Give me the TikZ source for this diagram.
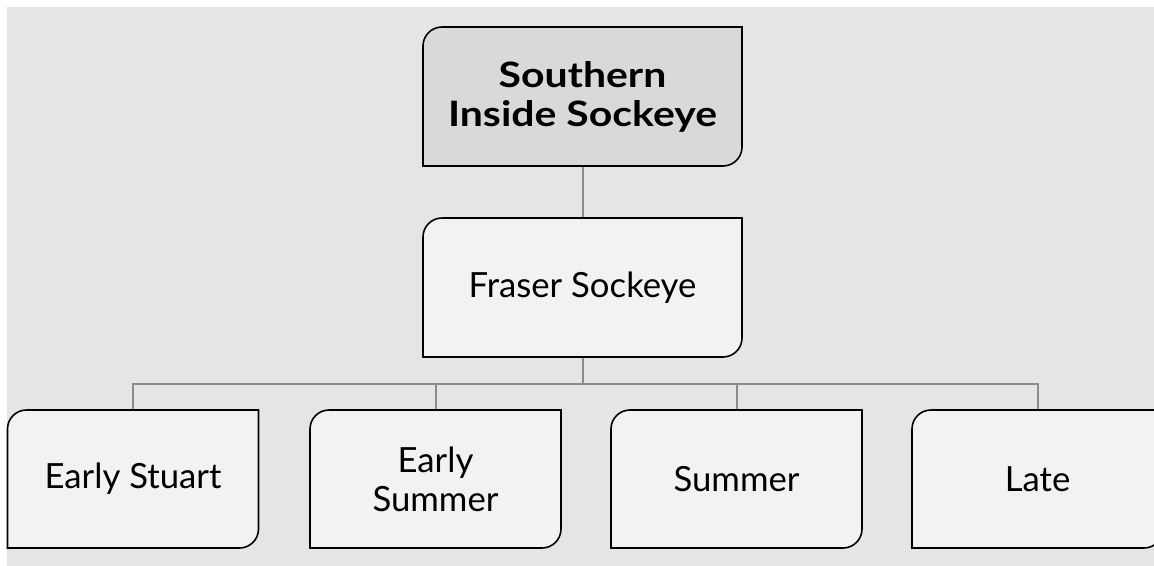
\documentclass[tikz,border=0pt]{standalone}
\usepackage{fontspec}
\setmainfont{Lato}
\definecolor{bggray}{HTML}{E5E5E5}
\definecolor{boxfill}{HTML}{F2F2F2}
\definecolor{topfill}{HTML}{D9D9D9}
\definecolor{linkgray}{HTML}{8C8C8C}
\tikzset{
 run/.style={rectangle,inner sep=0pt,outer sep=0pt,align=center,
  minimum width=251pt,minimum height=138pt,font=\fontsize{34.7}{39}\selectfont},
 stock/.style={run,minimum width=319pt,minimum height=139pt},
 link/.style={draw=linkgray,line width=2pt},
 edge/.style={draw=black,line width=1.6pt}}
% box with rounded top-left and bottom-right corners
\newcommand{\tabbox}[2]{%
 \filldraw[edge,fill=#2] (#1.south west) -- ([yshift=-19pt]#1.north west)
  arc[start angle=180,end angle=90,radius=19pt] -- (#1.north east)
  -- ([yshift=19pt]#1.south east) arc[start angle=0,end angle=-90,radius=19pt] -- cycle;}

\begin{document}
\begin{tikzpicture}[x=1pt,y=-1pt]
 \useasboundingbox (0,0) rectangle (1154,565);
 \fill[bggray] (7,7) rectangle (1160,570);
 \coordinate (bus) at (582.5,384);
 \node[stock] (sis) at (582.5,96.5) {};
 \node[stock] (fraser) at (582.5,287.5) {};
 \node[run] (estu) at (133,479) {};
 \node[run] (esum) at (435.5,479) {};
 \node[run] (summ) at (736.5,479) {};
 \node[run] (late) at (1037.5,479) {};
 \draw[link] (sis) -- (fraser) (fraser) -- (bus);
 \foreach \n in {estu,esum,summ,late} \draw[link] (bus) -| (\n.north);
 \tabbox{sis}{topfill}
 \foreach \n in {fraser,estu,esum,summ,late} {\tabbox{\n}{boxfill}}
 \node[font=\fontsize{35}{39}\bfseries\addfontfeature{FakeStretch=1.17}\selectfont,align=center] at (sis) {Southern\\Inside Sockeye};
 \node[run] at (fraser) {Fraser Sockeye};
 \node[run] at (estu) {Early Stuart};
 \node[run] at (esum) {Early\\Summer};
 \node[run] at (summ) {Summer};
 \node[run] at (late) {Late};
\end{tikzpicture}
\end{document}
